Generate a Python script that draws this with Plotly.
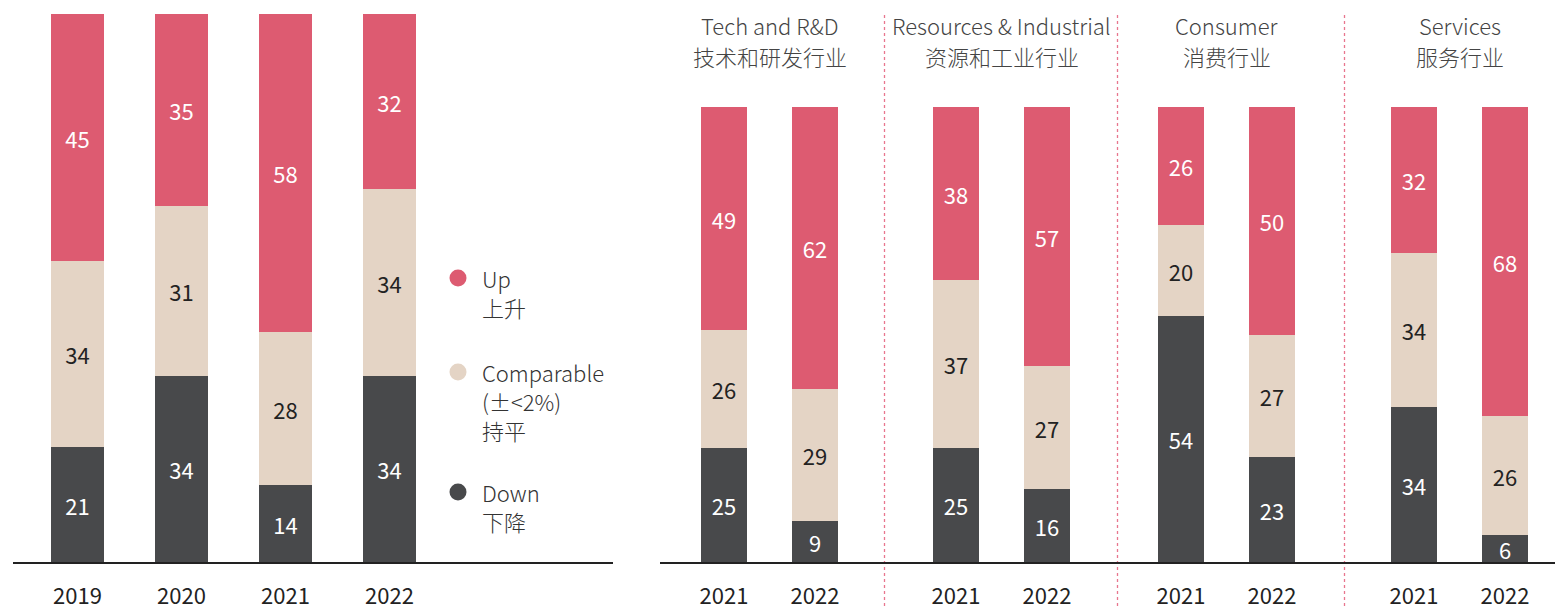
import plotly.graph_objects as go

# ---------------- data ----------------
years_left = ["2019", "2020", "2021", "2022"]
left_down = [21, 34, 14, 34]
left_comp = [34, 31, 28, 34]
left_up = [45, 35, 58, 32]

industries_en = ["Tech and R&D", "Resources & Industrial", "Consumer", "Services"]
industries_zh = ["技术和研发行业", "资源和工业行业", "消费行业", "服务行业"]
years_right = ["2021", "2022"]
# order: Tech 2021, Tech 2022, Resources 2021, Resources 2022, Consumer 2021, Consumer 2022, Services 2021, Services 2022
right_down = [25, 9, 25, 16, 54, 23, 34, 6]
right_comp = [26, 29, 37, 27, 20, 27, 34, 26]
right_up = [49, 62, 38, 57, 26, 50, 32, 68]

legend_en = ["Up", "Comparable", "Down"]
legend_sub = [["上升"], ["(±<2%)", "持平"], ["下降"]]

# ---------------- style ----------------
C_UP = "#DD5B71"
C_COMP = "#E4D4C5"
C_DOWN = "#48494B"
SEP = "#E8768E"
FONT = "Noto Sans CJK SC"
OFF = 8                      # page body margin offset
W, H = 1563 - OFF, 609 - OFF
FS = 22

def px(x):
    return (x - OFF) / W

def py(y):
    return 1 - (y - OFF) / H

# layout geometry (reference pixels)
left_x = [77.5 + 104 * i for i in range(len(years_left))]
group_centers = [769.5, 1001.5, 1226.5, 1459.5]
right_x = []
right_ticks = []
for c in group_centers:
    for k, yr in enumerate(years_right):
        right_x.append(c + (-45.5 if k == 0 else 45.5))
        right_ticks.append(yr)
separators = [884.5, 1117.5, 1344.5]

fig = go.Figure()

def add_stack(xs, down, comp, up, width, xa, ya):
    for vals, col, tcol in [(down, C_DOWN, "white"), (comp, C_COMP, "#222222"), (up, C_UP, "white")]:
        fig.add_trace(go.Bar(
            x=xs, y=vals, width=width, marker=dict(color=col, line=dict(width=0)),
            text=[str(v) for v in vals], textposition="inside", insidetextanchor="middle",
            textangle=0, constraintext="none",
            textfont=dict(family=FONT, size=FS, color=tcol),
            xaxis=xa, yaxis=ya, showlegend=False, hoverinfo="skip",
        ))

add_stack(left_x, left_down, left_comp, left_up, 53, "x", "y")
add_stack(right_x, right_down, right_comp, right_up, 46, "x2", "y2")

base_axis = dict(showgrid=False, zeroline=False, showline=True, linecolor="#222222", linewidth=2,
                 ticks="", tickfont=dict(family=FONT, size=FS, color="#222222"),
                 ticklabelstandoff=14, fixedrange=True, automargin=False)

fig.update_layout(
    width=W, height=H, margin=dict(l=0, r=0, t=0, b=0),
    paper_bgcolor="white", plot_bgcolor="rgba(0,0,0,0)",
    barmode="stack", bargap=0,
    font=dict(family=FONT, color="#333333"),
    xaxis=dict(domain=[px(13), px(613)], range=[13, 613], tickmode="array",
               tickvals=left_x, ticktext=years_left, anchor="y", **base_axis),
    yaxis=dict(domain=[py(562), py(14)], range=[0, 100], visible=False, fixedrange=True,
               automargin=False),
    xaxis2=dict(domain=[px(660), 1.0], range=[660, 1563], tickmode="array",
                tickvals=right_x, ticktext=right_ticks, anchor="y2", **base_axis),
    yaxis2=dict(domain=[py(562), py(107)], range=[0, 100], visible=False, fixedrange=True,
                automargin=False),
)

# separators
for sx in separators:
    fig.add_shape(type="line", xref="x2", yref="paper", x0=sx, x1=sx, y0=py(15), y1=py(612),
                  line=dict(color=SEP, width=1.3, dash="3px,3px"), layer="below")

# headers
for c, en, zh in zip(group_centers, industries_en, industries_zh):
    fig.add_annotation(x=c, xref="x2", y=py(25), yref="paper", text=en, showarrow=False,
                       xanchor="center", yanchor="middle",
                       font=dict(family=FONT, size=FS, color="#444444", weight=300))
    fig.add_annotation(x=c, xref="x2", y=py(56), yref="paper", text=zh, showarrow=False,
                       xanchor="center", yanchor="middle",
                       font=dict(family=FONT, size=FS, color="#444444", weight=300))

# legend
leg_y = [278, 372, 492]
leg_col = [C_UP, C_COMP, C_DOWN]
for yy, col, en, subs in zip(leg_y, leg_col, legend_en, legend_sub):
    fig.add_shape(type="circle", xref="paper", yref="paper",
                  x0=px(458 - 8.5), x1=px(458 + 8.5), y0=py(yy + 8.5), y1=py(yy - 8.5),
                  fillcolor=col, line=dict(width=0))
    fig.add_annotation(x=px(480), xref="paper", y=py(yy), yref="paper", text=en, showarrow=False,
                       xanchor="left", yanchor="middle",
                       font=dict(family=FONT, size=FS, color="#333333", weight=300))
    for j, s in enumerate(subs):
        fig.add_annotation(x=px(480), xref="paper", y=py(yy + 29 * (j + 1)), yref="paper", text=s,
                           showarrow=False, xanchor="left", yanchor="middle",
                           font=dict(family=FONT, size=FS, color="#333333", weight=300))

fig.write_html("out.html")
